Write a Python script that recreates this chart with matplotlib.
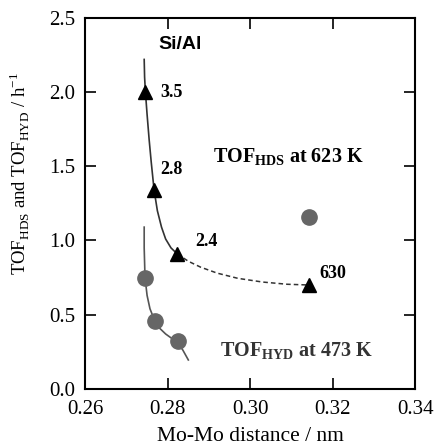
import numpy as np
import matplotlib.pyplot as plt

plt.rcParams['font.family'] = ['Liberation Serif', 'DejaVu Serif']
plt.rcParams['mathtext.fontset'] = 'custom'
plt.rcParams['mathtext.rm'] = 'Liberation Serif'
plt.rcParams['mathtext.bf'] = 'Liberation Serif:bold'

# data
hds_x = [0.2745, 0.2767, 0.2823, 0.3143]
hds_y = [2.00, 1.34, 0.91, 0.70]
hds_lbl = ['3.5', '2.8', '2.4', '630']
lbl_x = [0.2782, 0.2782, 0.2867, 0.3167]
lbl_y = [2.00, 1.48, 0.99, 0.78]

hyd_x = [0.2745, 0.2768, 0.2825, 0.3143]
hyd_y = [0.75, 0.46, 0.32, 1.16]

# guide curves (traced)
hds_fit_x = [0.2743, 0.2744, 0.2746, 0.2750, 0.2755, 0.2760, 0.2767, 0.2775,
             0.2785, 0.2795, 0.2808, 0.2823]
hds_fit_y = [2.22, 2.10, 2.00, 1.85, 1.68, 1.53, 1.34, 1.20,
             1.09, 1.01, 0.95, 0.91]
hds_dash_x = [0.2823, 0.2850, 0.2880, 0.2920, 0.2970, 0.3030, 0.3090, 0.3143]
hds_dash_y = [0.91, 0.86, 0.82, 0.78, 0.745, 0.72, 0.705, 0.70]
hyd_fit_x = [0.2743, 0.2743, 0.2744, 0.2745, 0.2750, 0.2757, 0.2767, 0.2780,
             0.2795, 0.2810, 0.2825, 0.2837, 0.2850]
hyd_fit_y = [1.09, 0.95, 0.85, 0.75, 0.63, 0.54, 0.47, 0.41,
             0.37, 0.34, 0.31, 0.26, 0.195]

fig = plt.figure(figsize=(4.37, 4.47), dpi=100)
ax = fig.add_axes([0.195, 0.13, 0.755, 0.83])

ax.plot(hds_fit_x, hds_fit_y, color='#333333', lw=1.2)
ax.plot(hds_dash_x, hds_dash_y, color='#333333', lw=1.1, ls=(0, (3, 2)))
ax.plot(hyd_fit_x, hyd_fit_y, color='#555555', lw=1.2)

ax.plot(hds_x, hds_y, '^', color='black', ms=10, zorder=3)
ax.plot(hyd_x, hyd_y, 'o', color='#666666', ms=11, zorder=3)

for x, y, t in zip(lbl_x, lbl_y, hds_lbl):
    ax.text(x, y, t, fontsize=13, fontweight='bold', va='center', ha='left')

ax.text(0.2777, 2.32, 'Si/Al', family='Liberation Sans', fontsize=14, fontweight='bold',
        va='center')
ax.text(0.2910, 1.56, r'TOF$_{\mathbf{HDS}}$ at 623 K', fontsize=14.5, fontweight='bold',
        va='center')
ax.text(0.2927, 0.25, r'TOF$_{\mathbf{HYD}}$ at 473 K', fontsize=14.5, fontweight='bold',
        va='center', color='#333333')

ax.set_xlim(0.26, 0.34)
ax.set_ylim(0, 2.5)
ax.set_xticks([0.26, 0.28, 0.30, 0.32, 0.34])
ax.set_yticks([0.0, 0.5, 1.0, 1.5, 2.0, 2.5])
ax.xaxis.set_major_formatter(plt.FormatStrFormatter('%.2f'))
ax.yaxis.set_major_formatter(plt.FormatStrFormatter('%.1f'))
ax.tick_params(direction='in', top=True, right=True, length=8, width=1.2, labelsize=15)
ax.tick_params(axis='x', pad=8)
ax.tick_params(axis='y', pad=7)
for s in ax.spines.values():
    s.set_linewidth(1.5)

ax.set_xlabel('Mo-Mo distance / nm', fontsize=15.5, labelpad=6)
ax.set_ylabel(r'TOF$_{\mathrm{HDS}}$ and TOF$_{\mathrm{HYD}}$ / h$^{-1}$', fontsize=13.5)
ax.yaxis.set_label_coords(-0.16, 0.58)

fig.savefig('out.png', dpi=100)
